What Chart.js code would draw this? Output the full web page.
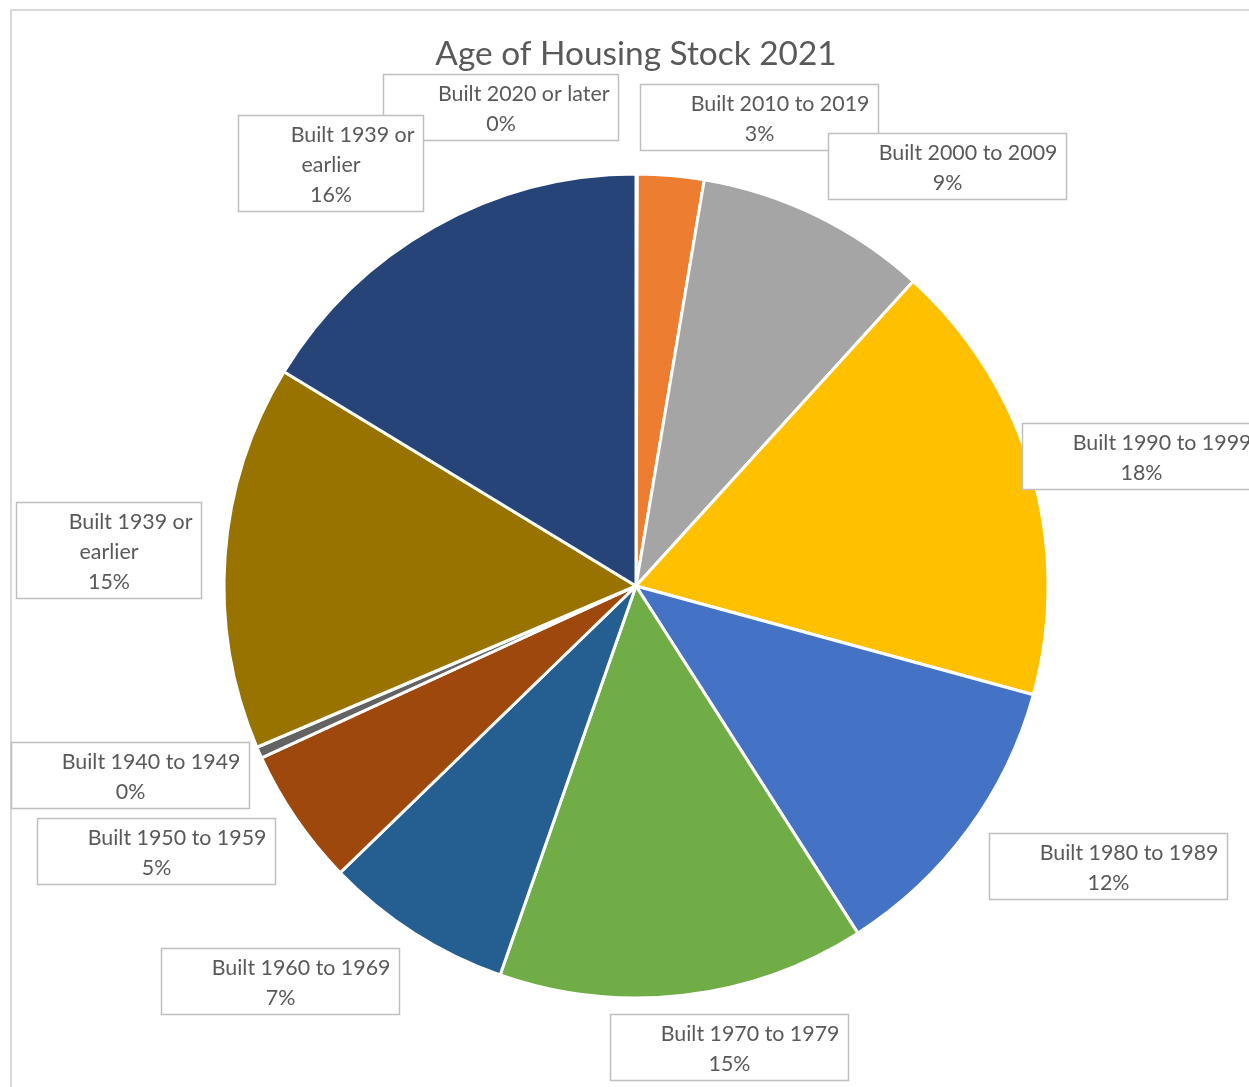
<!DOCTYPE html>
<html>
<head>
<meta charset="utf-8">
<script src="https://cdn.jsdelivr.net/npm/chart.js@4"></script>
<style>
  html, body { margin: 0; padding: 0; background: #fff; }
  #wrap { width: 1249px; height: 1087px; position: relative; }
</style>
</head>
<body>
<div id="wrap"><canvas id="housingChart"></canvas></div>
<script>
// Data
const chartTitle = 'Age of Housing Stock 2021';
const categories = [
    'Built 2020 or later', 'Built 2010 to 2019', 'Built 2000 to 2009',
    'Built 1990 to 1999', 'Built 1980 to 1989', 'Built 1970 to 1979',
    'Built 1960 to 1969', 'Built 1950 to 1959', 'Built 1940 to 1949',
    'Built 1939 or earlier', 'Built 1939 or earlier'
];
const shares = [0.05, 2.6, 9.1, 17.5, 11.7, 14.4, 7.4, 5.4, 0.45, 15.1, 16.3];
const percentLabels = ['0%', '3%', '9%', '18%', '12%', '15%', '7%', '5%', '0%', '15%', '16%'];

// Styles
const sliceColors = [
    '#4472C4', '#ED7D31', '#A5A5A5', '#FFC000', '#4472C4', '#70AD47',
    '#255E91', '#9E480E', '#636363', '#997300', '#264478'
];

// Label boxes: centre offset from pie centre, and box size
const labelBoxes = [
    { dx: -135.5, dy: -479,   w: 235, h: 66 },
    { dx: 123,    dy: -469,   w: 238, h: 66 },
    { dx: 310.5,  dy: -420.5, w: 238, h: 66 },
    { dx: 505,    dy: -130.5, w: 238, h: 66 },
    { dx: 471.5,  dy: 279.5,  w: 238, h: 66 },
    { dx: 93,     dy: 461,    w: 238, h: 66 },
    { dx: -356,   dy: 395,    w: 238, h: 66 },
    { dx: -480,   dy: 265,    w: 238, h: 66 },
    { dx: -506,   dy: 189,    w: 238, h: 66 },
    { dx: -527.5, dy: -36.5,  w: 185, h: 96 },
    { dx: -305.5, dy: -423.5, w: 185, h: 96 }
];

const textColor = '#595959';
const labelFont = '21.4px Lato';
const titleFont = '33.4px Lato';

function wrapText(ctx, text, maxWidth) {
    const words = text.split(' ');
    const lines = [];
    let line = '';
    words.forEach(function(word) {
        const test = line ? line + ' ' + word : word;
        if (line && ctx.measureText(test).width > maxWidth) {
            lines.push(line);
            line = word;
        } else {
            line = test;
        }
    });
    if (line) lines.push(line);
    return lines;
}

// Frame, title and data labels
const decorPlugin = {
    id: 'decor',
    beforeDraw(chart) {
        const ctx = chart.ctx;
        ctx.save();
        ctx.fillStyle = '#fff';
        ctx.fillRect(0, 0, chart.width, chart.height);
        ctx.strokeStyle = '#D9D9D9';
        ctx.lineWidth = 2;
        ctx.strokeRect(11, 10, chart.width + 50, chart.height + 50);
        ctx.restore();
    },
    afterDatasetsDraw(chart) {
        const ctx = chart.ctx;
        const arcs = chart.getDatasetMeta(0).data;
        const cx = arcs[0].x;
        const cy = arcs[0].y;

        ctx.save();
        ctx.fillStyle = textColor;
        ctx.font = titleFont;
        ctx.textAlign = 'center';
        ctx.textBaseline = 'alphabetic';
        ctx.fillText(chartTitle, cx, 65);

        ctx.font = labelFont;
        labelBoxes.forEach(function(box, i) {
            const left = Math.round(cx + box.dx - box.w / 2) + 0.5;
            const top = Math.round(cy + box.dy - box.h / 2) + 0.5;
            ctx.fillStyle = '#fff';
            ctx.fillRect(left, top, box.w, box.h);
            ctx.strokeStyle = '#BFBFBF';
            ctx.lineWidth = 1.5;
            ctx.strokeRect(left, top, box.w, box.h);

            const lines = wrapText(ctx, categories[i], box.w - 20);
            lines.push(percentLabels[i]);
            ctx.fillStyle = textColor;
            lines.forEach(function(text, j) {
                const y = top + 26 + j * 30;
                if (j === 0) {
                    ctx.textAlign = 'right';
                    ctx.fillText(text, left + box.w - 9, y);
                } else {
                    ctx.textAlign = 'center';
                    ctx.fillText(text, left + box.w / 2, y);
                }
            });
        });
        ctx.restore();
    }
};

const ctx = document.getElementById('housingChart').getContext('2d');
const chart = new Chart(ctx, {
    type: 'pie',
    data: {
        labels: categories,
        datasets: [{
            data: shares,
            backgroundColor: sliceColors,
            borderColor: '#fff',
            borderWidth: 3
        }]
    },
    options: {
        responsive: true,
        maintainAspectRatio: false,
        animation: false,
        radius: 412,
        layout: {
            padding: { left: 123, right: 100, top: 125, bottom: 40 }
        },
        plugins: {
            legend: { display: false },
            tooltip: { enabled: false },
            title: { display: false }
        }
    },
    plugins: [decorPlugin]
});
</script>
</body>
</html>
